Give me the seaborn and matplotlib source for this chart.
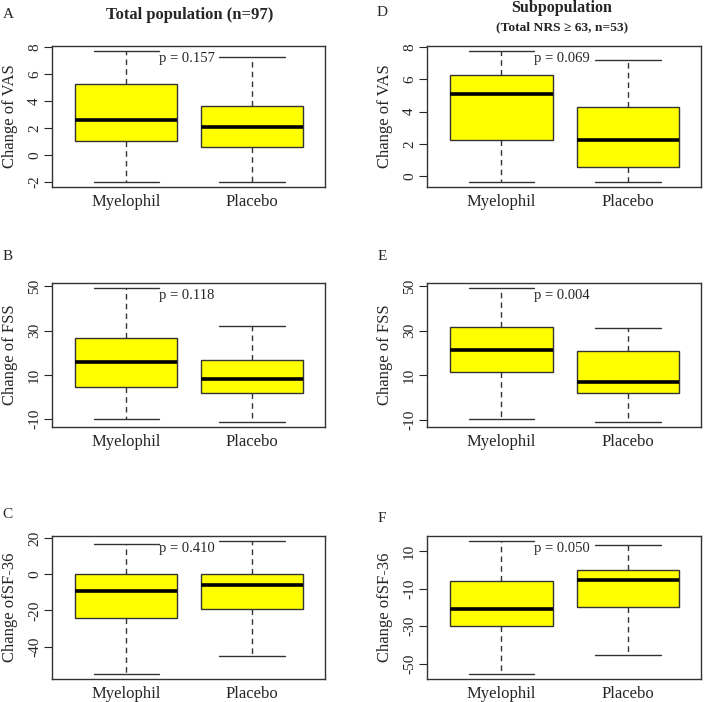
import numpy as np
import pandas as pd
import seaborn as sns
import matplotlib.pyplot as plt

groups = ["Myelophil", "Placebo"]

# five-number summaries: min, Q1, median, Q3, max
vas_all_mye = [-2.0, 1.0, 2.6, 5.25, 7.7]
vas_all_pla = [-2.0, 0.55, 2.1, 3.65, 7.25]
fss_all_mye = [-10.0, 4.4, 15.8, 26.5, 49.1]
fss_all_pla = [-11.1, 1.8, 8.2, 16.7, 32.1]
sf_all_mye = [-55.0, -24.1, -9.4, 0.0, 16.9]
sf_all_pla = [-45.0, -19.2, -5.9, 0.0, 18.3]

vas_sub_mye = [-0.35, 2.25, 5.1, 6.3, 7.75]
vas_sub_pla = [-0.35, 0.58, 2.25, 4.3, 7.18]
fss_sub_mye = [-9.7, 11.5, 21.5, 31.7, 48.9]
fss_sub_pla = [-10.8, 2.1, 6.8, 20.9, 31.2]
sf_sub_mye = [-55.2, -29.6, -20.9, -5.7, 15.2]
sf_sub_pla = [-45.4, -19.6, -5.5, 0.2, 13.2]

p_values = ["0.157", "0.118", "0.410", "0.069", "0.004", "0.050"]
ylabels = ["Change of VAS", "Change of FSS", "Change ofSF-36"]
letters = ["A", "B", "C", "D", "E", "F"]
yticks = [[-2, 0, 2, 4, 6, 8], [-10, 10, 30, 50], [-40, -20, 0, 20],
          [0, 2, 4, 6, 8], [-10, 10, 30, 50], [-50, -30, -10, 10]]

panels = [(vas_all_mye, vas_all_pla), (fss_all_mye, fss_all_pla), (sf_all_mye, sf_all_pla),
          (vas_sub_mye, vas_sub_pla), (fss_sub_mye, fss_sub_pla), (sf_sub_mye, sf_sub_pla)]

sns.set_style("white")
plt.rcParams['font.family'] = ['Liberation Serif', 'DejaVu Serif']
plt.rcParams['axes.unicode_minus'] = False

W, H = 708, 702
fig = plt.figure(figsize=(W / 100, H / 100), dpi=100)

cols = [(52, 325), (427, 701)]
rows = [(46, 187), (283, 427), (536, 679)]
letter_pos = [(8, 14), (8, 256), (7, 515), (382, 12), (382, 257), (382, 518)]

for i, (mye, pla) in enumerate(panels):
    c, r = divmod(i, 3)
    x0, x1 = cols[c]
    y0, y1 = rows[r]
    ax = fig.add_axes([x0 / W, 1 - y1 / H, (x1 - x0) / W, (y1 - y0) / H])
    df = pd.DataFrame({"group": np.repeat(groups, 5), "value": mye + pla})
    sns.boxplot(data=df, x="group", y="value", ax=ax, whis=(0, 100),
                width=0.81, color="#ffff00", saturation=1,
                linecolor="#333333", linewidth=1.0, capwidths=0.52,
                whiskerprops=dict(linestyle=(0, (4, 3))),
                medianprops=dict(color="black", linewidth=2.6))
    lo = min(mye + pla)
    hi = max(mye + pla)
    pad = (hi - lo) * 0.04
    ax.set_ylim(lo - pad, hi + pad)
    ax.set_xlim(-0.59, 1.58)
    ax.set_yticks(yticks[i])
    ax.set_xlabel("")
    ax.set_ylabel(ylabels[r], fontsize=12)
    ax.yaxis.set_label_coords(-0.125, 0.5)
    ax.tick_params(axis="y", left=True, length=6, width=0.8, labelsize=11,
                   labelrotation=90, pad=2)
    plt.setp(ax.get_yticklabels(), va="center")
    ax.tick_params(axis="x", length=0, labelsize=12, pad=5)
    for s in ax.spines.values():
        s.set_color("#333333")
        s.set_linewidth(1.0)
    ax.text(0.48, 0.91, "p = " + p_values[i], transform=ax.get_xaxis_transform(),
            ha="center", va="center", fontsize=10.5)
    lx, ly = letter_pos[i]
    fig.text(lx / W, 1 - ly / H, letters[i], ha="center", va="center", fontsize=11)

fig.text(190 / W, 1 - 15 / H, "Total population (n=97)", ha="center", va="center",
         fontsize=12, fontweight="bold")
fig.text(562 / W, 1 - 8 / H, "Subpopulation", ha="center", va="center",
         fontsize=11.5, fontweight="bold")
fig.text(562 / W, 1 - 27 / H, "(Total NRS \u2265 63, n=53)", ha="center", va="center",
         fontsize=9.7, fontweight="bold")

fig.savefig("out.png", dpi=100)
